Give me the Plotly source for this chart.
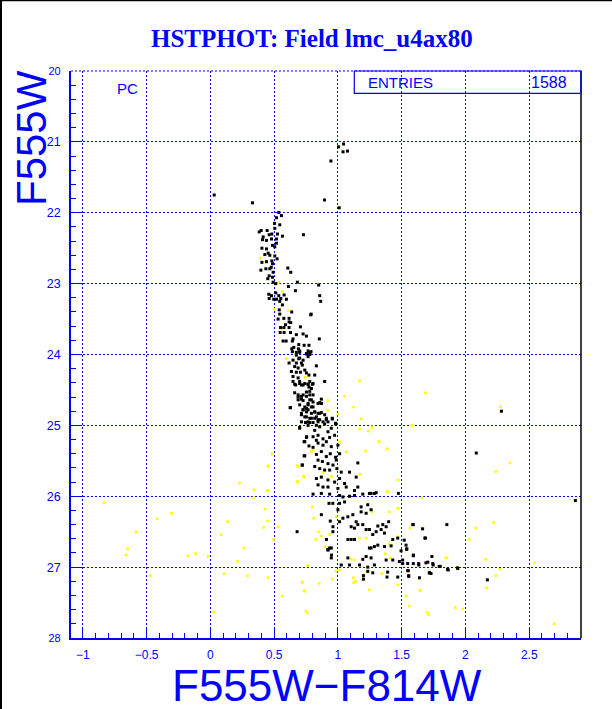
import plotly.graph_objects as go

# ---------------- data (colour F555W-F814W, magnitude F555W) ----------------
black_pts = [
    (1.044,21.03),(1.005,21.07),(1.04,21.14),(1.075,21.13),(0.945,21.27),(0.895,21.82),(1.01,21.93),(0.03,21.75),(0.33,21.86),
    (0.536,21.995),(0.518,22.07),(0.557,22.04),(0.503,22.15),(0.505,22.22),(0.544,22.17),(0.383,22.27),(0.398,22.25),(0.445,22.25),
    (0.461,22.31),(0.482,22.30),(0.526,22.30),(0.565,22.33),(0.414,22.34),(0.479,22.37),(0.518,22.37),(0.409,22.38),(0.44,22.39),
    (0.487,22.46),(0.518,22.43),(0.73,22.31),(0.404,22.50),(0.44,22.51),(0.505,22.48),(0.453,22.57),(0.466,22.60),(0.427,22.59),
    (0.505,22.61),(0.523,22.65),(0.404,22.70),(0.44,22.69),(0.482,22.68),(0.487,22.72),(0.477,22.77),(0.466,22.79),(0.396,22.81),
    (0.435,22.79),(0.607,22.78),(0.63,22.84),(0.492,22.84),(0.461,22.89),(0.487,22.91),(0.45,22.93),(0.492,22.98),(0.513,23.0),
    (0.682,22.98),(0.849,23.02),(0.612,23.04),(0.667,23.10),(0.513,23.13),(0.458,23.15),(0.479,23.17),(0.536,23.17),(0.578,23.16),
    (0.857,23.17),(0.518,23.22),(0.552,23.21),(0.596,23.22),(0.461,23.21),(0.497,23.22),(0.865,23.25),(0.544,23.25),(0.565,23.30),
    (0.54,23.37),(0.638,23.40),(0.787,23.44),(0.79,23.43),(0.544,23.43),(0.531,23.50),(0.576,23.49),(0.617,23.49),(0.617,23.54),
    (0.63,23.55),(0.589,23.58),(0.55,23.62),(0.576,23.62),(0.617,23.62),(0.706,23.61),(0.547,23.69),(0.578,23.69),(0.628,23.69),
    (0.674,23.72),(0.727,23.71),(0.753,23.74),(0.648,23.78),(0.643,23.81),(0.57,23.81),(0.594,23.81),(0.854,23.78),(0.693,23.86),
    (0.735,23.87),(0.773,23.87),(0.638,23.92),(0.654,23.90),(0.69,23.92),(0.70,23.97),(0.753,23.99),(0.779,23.98),(0.789,23.96),
    (0.674,24.01),(0.693,24.06),(0.766,24.03),
    (0.643,23.96),(0.674,23.97),(0.70,23.95),(0.753,23.99),(0.779,24.0),(0.766,23.95),(0.617,24.12),(0.648,24.08),(0.674,24.12),
    (0.70,24.05),(0.714,24.12),(0.727,24.08),(0.661,24.17),(0.688,24.19),(0.721,24.15),(0.74,24.22),(0.831,24.16),(0.635,24.24),
    (0.674,24.25),(0.706,24.25),(0.753,24.26),(0.773,24.29),(0.818,24.29),(0.648,24.31),(0.688,24.33),(0.648,24.38),(0.70,24.38),
    (0.74,24.41),(0.779,24.38),(0.805,24.41),(0.896,24.38),(0.669,24.43),(0.714,24.43),(0.766,24.42),(0.661,24.54),(0.792,24.48),
    (0.779,24.52),(0.753,24.59),(0.688,24.57),(0.714,24.59),(0.805,24.57),(0.87,24.63),(0.87,24.69),(0.857,24.68),(0.688,24.64),
    (0.727,24.65),(0.779,24.64),(0.805,24.67),(0.628,24.75),(0.766,24.71),(0.792,24.74),(0.753,24.76),(0.727,24.78),(0.714,24.83),
    (0.753,24.81),(0.792,24.83),(0.818,24.81),(0.844,24.83),(0.87,24.82),(0.896,24.85),(0.74,24.88),(0.779,24.90),(0.818,24.90),
    (0.857,24.92),(0.909,24.92),(0.956,24.91),(0.714,24.95),(0.747,24.96),(0.766,24.95),(0.805,24.96),(0.844,24.95),(0.883,24.95),
    (0.922,24.95),(0.982,24.98),(0.70,25.04),(0.818,25.07),(0.857,25.02),(0.922,25.09),(0.948,25.04),(0.805,25.16),(0.831,25.21),
    (0.844,25.14),(0.883,25.19),(0.935,25.17),(0.974,25.14),(0.753,25.17),(0.74,25.23),(0.773,25.29),(0.805,25.31),(0.844,25.25),
    (0.883,25.28),(0.909,25.23),(0.948,25.30),(1.0,25.28),(0.831,25.41),(0.87,25.37),(0.909,25.44),(0.94,25.40),(0.982,25.45),
    (1.013,25.40),(0.74,25.43),(0.844,25.49),(0.878,25.51),(0.922,25.54),(0.961,25.56),(0.987,25.49),(0.721,25.56),(1.156,25.53),
    (0.818,25.58),(0.857,25.61),(0.896,25.63),(0.935,25.63),(0.992,25.61),(1.026,25.66),(1.091,25.66),(1.143,25.73),(0.831,25.75),
    (0.87,25.73),(0.922,25.77),(0.974,25.80),(1.013,25.75),(1.052,25.82),(0.844,25.84),(0.883,25.87),(0.922,25.87),(1.0,25.89),
    (1.065,25.87),(1.13,25.92),(1.156,25.87),(0.805,25.97),(0.87,25.96),(0.935,25.97),(1.013,25.99),(1.039,26.01),(1.091,26.0),
    (1.13,25.99),(1.195,25.97),(1.247,25.96),(1.286,25.96),
    (0.661,24.42),(0.70,24.41),(0.727,24.43),(0.766,24.42),(0.80,24.42),(0.773,24.46),(0.753,24.53),(0.727,24.57),(0.779,24.57),
    (0.688,24.60),(0.714,24.63),(0.792,24.64),(0.766,24.69),(0.70,24.71),(0.74,24.74),(0.805,24.74),(0.844,24.69),(0.87,24.69),
    (0.727,24.78),(0.766,24.78),(0.818,24.81),(0.857,24.83),(0.714,24.85),(0.753,24.88),(0.792,24.90),(0.831,24.88),(0.909,24.90),
    (0.956,24.90),(0.747,24.96),(0.779,24.96),(0.844,24.92),(0.982,24.97),(0.70,25.03),(0.766,25.0),(0.831,25.0),(0.896,24.98),
    (0.68,26.50),(0.87,26.26),(0.922,26.75),(0.948,26.73),(0.948,26.87),(0.961,26.50),(0.961,26.43),(0.93,26.10),(0.96,26.10),
    (1.013,26.10),(1.052,26.08),(1.0,26.19),(1.013,26.36),(1.039,26.31),(1.078,26.29),(1.117,26.26),(1.143,26.36),(1.104,26.43),
    (1.13,26.45),(1.156,26.40),(1.195,26.40),(1.221,26.47),(1.247,26.47),(1.182,26.22),(1.221,26.24),(1.26,26.19),(1.234,26.12),
    (1.182,26.15),(1.26,25.96),(1.30,25.95),(1.474,25.96),(1.273,26.54),(1.30,26.50),(1.339,26.47),(1.365,26.52),(1.398,26.36),
    (1.378,26.43),(1.352,26.40),(1.313,26.42),(1.13,26.61),(1.104,26.61),(1.078,26.61),(1.247,26.73),(1.26,26.73),(1.286,26.71),
    (1.313,26.69),(1.365,26.71),(1.417,26.70),(1.43,26.61),(1.469,26.59),(1.52,26.62),(1.534,26.69),(1.539,26.75),(1.591,26.40),
    (1.664,26.46),(1.682,26.59),(1.854,26.40),(1.078,26.87),(1.195,26.89),(1.221,26.85),(1.26,26.87),(1.378,26.90),(1.43,26.90),
    (1.482,26.92),(1.508,26.90),(1.508,26.95),(1.547,26.95),(1.591,26.95),(1.633,26.95),(1.69,26.94),(1.747,26.97),(1.794,26.99),
    (1.859,27.03),(1.937,27.01),(1.591,26.84),(1.737,26.85),(1.026,26.97),(1.091,26.97),(1.169,26.97),(1.234,27.0),(1.286,26.97),
    (1.234,27.06),(1.20,27.12),(1.20,27.17),(1.273,27.08),(1.39,27.07),(1.385,27.14),(1.469,27.14),(1.547,27.05),(1.555,27.13),
    (1.716,27.08),
    (2.282,24.80),(2.085,25.39),(2.862,26.06),(1.587,26.40),(1.686,26.59),(1.54,26.74),(1.592,26.83),(1.495,26.77),(1.705,26.93),
    (1.744,26.95),(1.634,26.97),(1.802,26.99),(1.865,27.04),(1.94,27.02),(1.718,27.08),(1.73,27.09),(1.639,27.15),(1.555,27.12),
    (1.552,27.05),(2.172,27.18),
    (0.625,24.75),(0.72,25.56),(0.735,25.43),(0.735,25.23),(0.755,25.16),(0.935,26.73),(0.922,26.76),
    (0.94,26.35),(0.91,26.61),(0.95,26.83),
]

yellow_pts = [
    (0.393,22.64),(0.435,22.70),(0.536,22.98),(0.565,23.11),(0.503,23.36),(0.612,23.38),(0.56,23.63),(0.596,24.06),
    (0.745,24.32),(1.169,24.37),(0.922,24.65),(1.052,24.59),(0.922,24.79),(1.122,24.74),(1.0,24.84),(1.18,24.91),(1.169,25.05),
    (1.24,25.08),(1.268,25.03),(1.013,25.23),(0.805,25.35),(0.792,25.37),(1.065,25.37),(1.216,25.36),(1.32,25.23),(0.487,25.41),
    (0.453,25.58),(0.688,25.58),(0.883,25.67),(0.948,25.72),(0.732,25.73),(1.174,25.69),(0.682,25.80),(0.445,25.92),
    (0.80,26.15),(0.81,26.31),(0.85,26.50),(0.87,26.56),(0.826,26.61),(0.935,26.54),(0.90,26.71),(0.987,26.29),(1.268,26.22),
    (1.404,26.22),(1.469,26.17),(1.385,25.93),(1.169,26.59),(1.221,26.59),(1.404,26.67),(1.469,26.57),(1.565,26.45),(1.66,26.45),
    (1.104,26.89),(1.13,26.90),(1.372,26.81),(1.409,26.87),(1.846,26.87),(1.013,27.04),(0.987,27.05),(1.227,27.07),(1.122,27.15),
    (1.122,27.22),(1.138,27.20),(1.247,27.32),(1.346,27.09),(1.469,27.25),(1.534,27.41),(1.643,27.33),(1.638,27.16),(0.956,27.17),
    (0.852,27.23),(0.721,27.22),(0.74,27.34),(2.03,26.61),
    (1.686,24.54),(2.274,24.74),(1.579,25.0),(1.266,25.02),(1.324,25.23),(1.387,25.33),(2.35,25.53),(2.238,25.65),(1.474,25.77),
    (1.387,25.94),(1.66,26.02),(1.474,26.17),(2.22,26.37),(2.08,26.45),(1.854,26.87),(2.159,26.89),(2.542,26.94),(2.27,27.03),
    (2.238,27.12),(2.165,27.29),(1.644,27.33),(1.56,27.55),(1.70,27.64),(1.92,27.57),(1.98,27.59),(2.694,27.80),
    (-0.833,26.09),(-0.582,26.50),(-0.65,26.74),(-0.66,26.83),(-0.472,27.12),(-0.417,26.32),(-0.305,26.24),(-0.177,26.84),
    (-0.117,26.81),(-0.017,26.85),(0.024,27.63),(0.084,26.54),(0.108,27.09),(0.134,26.36),(0.212,26.92),(0.228,25.81),
    (0.262,26.73),(0.291,27.12),(0.343,25.91),(0.34,26.02),(0.416,26.44),(0.427,26.18),(0.448,26.35),(0.45,25.92),(0.452,27.15),
    (0.452,25.57),(0.484,25.40),(0.495,26.61),(0.531,26.43),(0.563,27.41),(0.68,25.57),(0.683,25.79),(0.73,25.72),(0.72,27.21),
    (0.735,27.33),(0.75,27.62),(0.763,26.98),(0.76,27.65),(1.71,27.67),
]

x_tick_vals = [-1, -0.5, 0, 0.5, 1, 1.5, 2, 2.5]
x_tick_text = ["\u22121", "\u22120.5", "0", "0.5", "1", "1.5", "2", "2.5"]
y_tick_vals = [20, 21, 22, 23, 24, 25, 26, 27, 28]
y_tick_text = ["<span style='font-size:11px'>20</span>", "21", "22", "23", "24", "25", "26", "27",
               "<span style='font-size:11px'>28</span>"]

title_text = "HSTPHOT: Field lmc_u4ax80"
x_title = "F555W\u2212F814W"
y_title = "F555W"
entries_label = "ENTRIES"
entries_value = "1588"
corner_label = "PC"

BLUE = "#0000ff"

# ---------------- figure ----------------
W, H = 612, 709
L, R, T, B = 71, 31, 71, 71
PW, PH = W - L - R, H - T - B


def px(xp):
    return (xp - L) / PW


def py(yp):
    return (H - B - yp) / PH


fig = go.Figure()
fig.add_trace(go.Scatter(
    x=[p[0] for p in yellow_pts], y=[p[1] for p in yellow_pts], mode="markers",
    marker=dict(symbol="square", size=2.6, color="#ffff00", line=dict(width=0)),
    showlegend=False, hoverinfo="skip"))
fig.add_trace(go.Scatter(
    x=[p[0] for p in black_pts], y=[p[1] for p in black_pts], mode="markers",
    marker=dict(symbol="square", size=3, color="#000000", line=dict(width=0)),
    showlegend=False, hoverinfo="skip"))

axis_common = dict(
    ticks="inside", ticklen=11, tickwidth=1, tickcolor=BLUE,
    showline=True, linecolor=BLUE, linewidth=1.5,
    showgrid=True, gridcolor=BLUE, gridwidth=1, griddash="2px,2px",
    zeroline=False, automargin=False,
)

fig.update_xaxes(range=[-1.093, 2.906], tickmode="array", tickvals=x_tick_vals, ticktext=x_tick_text,
                 minor=dict(ticks="inside", ticklen=5, dtick=0.1, tick0=0, tickcolor=BLUE, showgrid=False),
                 tickfont=dict(family="Liberation Sans, Arial, sans-serif", size=12, color=BLUE),
                 ticklabelstandoff=5, **axis_common)
fig.update_yaxes(range=[28, 20], tickmode="array", tickvals=y_tick_vals, ticktext=y_tick_text,
                 minor=dict(ticks="inside", ticklen=5, dtick=0.2, tick0=20, tickcolor=BLUE, showgrid=False),
                 tickfont=dict(family="Liberation Sans, Arial, sans-serif", size=12.5, color=BLUE),
                 ticklabelstandoff=6, **axis_common)

shapes = [
    dict(type="line", xref="paper", yref="paper", x0=1, x1=1, y0=0, y1=1, line=dict(color="black", width=1.5)),
    dict(type="line", xref="paper", yref="paper", x0=0, x1=1, y0=1, y1=1, line=dict(color=BLUE, width=1, dash="2px,2px")),
    dict(type="rect", xref="paper", yref="paper", x0=px(354.3), x1=1, y0=py(93.3), y1=1,
         line=dict(color=BLUE, width=1.2), fillcolor="rgba(0,0,0,0)"),
    dict(type="line", xref="paper", yref="paper", x0=px(1), x1=px(1), y0=py(H), y1=py(0),
         line=dict(color="black", width=2)),
    dict(type="line", xref="paper", yref="paper", x0=px(0), x1=px(W), y0=py(0.5), y1=py(0.5),
         line=dict(color="black", width=1.5)),
]

annotations = [
    dict(text=f"<b>{title_text}</b>", xref="paper", yref="paper", x=px(312), y=py(38),
         xanchor="center", yanchor="middle", showarrow=False,
         font=dict(family="Liberation Serif, Times New Roman, serif", size=25, color=BLUE)),
    dict(text=x_title, xref="paper", yref="paper", x=px(327), y=py(685),
         xanchor="center", yanchor="middle", showarrow=False,
         font=dict(family="Liberation Sans, Arial, sans-serif", size=44, color=BLUE)),
    dict(text=y_title, xref="paper", yref="paper", x=px(31), y=py(138), textangle=-90,
         xanchor="center", yanchor="middle", showarrow=False,
         font=dict(family="Liberation Sans, Arial, sans-serif", size=42, color=BLUE)),
    dict(text=entries_label, xref="paper", yref="paper", x=px(400), y=py(82.5),
         xanchor="center", yanchor="middle", showarrow=False,
         font=dict(family="Liberation Sans, Arial, sans-serif", size=15, color=BLUE)),
    dict(text=entries_value, xref="paper", yref="paper", x=px(549), y=py(82.5),
         xanchor="center", yanchor="middle", showarrow=False,
         font=dict(family="Liberation Sans, Arial, sans-serif", size=16, color=BLUE)),
    dict(text=corner_label, xref="paper", yref="paper", x=px(127), y=py(88),
         xanchor="center", yanchor="middle", showarrow=False,
         font=dict(family="Liberation Sans, Arial, sans-serif", size=15, color=BLUE)),
]

fig.update_layout(
    width=W, height=H,
    margin=dict(l=L, r=R, t=T, b=B, pad=0, autoexpand=False),
    paper_bgcolor="white", plot_bgcolor="white",
    shapes=shapes, annotations=annotations,
    showlegend=False,
)

fig.write_html("out.html", config={"displayModeBar": False},
               post_script="document.body.style.margin='0px';document.body.style.padding='0px';")
